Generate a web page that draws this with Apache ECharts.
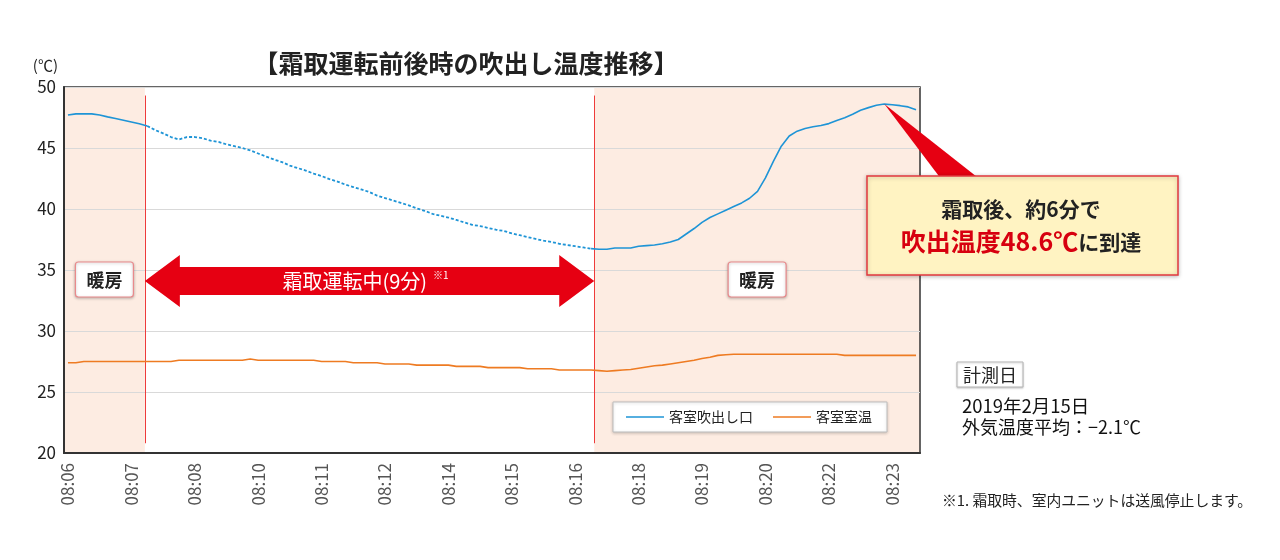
<!DOCTYPE html>
<html lang="ja">
<head>
<meta charset="utf-8">
<title>霜取運転前後時の吹出し温度推移</title>
<script src="https://cdn.jsdelivr.net/npm/echarts@6/dist/echarts.min.js"></script>
<style>
    html, body { margin: 0; padding: 0; background: #fff; }
    #chart { width: 1280px; height: 560px; }
</style>
</head>
<body>
<div id="chart"></div>
<script>
// 計測時刻（10秒ごと）
const times = [
    '08:06:00', '08:06:10', '08:06:20', '08:06:30', '08:06:40', '08:06:50',
    '08:07:00', '08:07:10', '08:07:20', '08:07:30', '08:07:40', '08:07:50',
    '08:08:00', '08:08:10', '08:08:20', '08:08:30', '08:08:40', '08:08:50',
    '08:09:00', '08:09:10', '08:09:20', '08:09:30', '08:09:40', '08:09:50',
    '08:10:00', '08:10:10', '08:10:20', '08:10:30', '08:10:40', '08:10:50',
    '08:11:00', '08:11:10', '08:11:20', '08:11:30', '08:11:40', '08:11:50',
    '08:12:00', '08:12:10', '08:12:20', '08:12:30', '08:12:40', '08:12:50',
    '08:13:00', '08:13:10', '08:13:20', '08:13:30', '08:13:40', '08:13:50',
    '08:14:00', '08:14:10', '08:14:20', '08:14:30', '08:14:40', '08:14:50',
    '08:15:00', '08:15:10', '08:15:20', '08:15:30', '08:15:40', '08:15:50',
    '08:16:00', '08:16:10', '08:16:20', '08:16:30', '08:16:40', '08:16:50',
    '08:17:00', '08:17:10', '08:17:20', '08:17:30', '08:17:40', '08:17:50',
    '08:18:00', '08:18:10', '08:18:20', '08:18:30', '08:18:40', '08:18:50',
    '08:19:00', '08:19:10', '08:19:20', '08:19:30', '08:19:40', '08:19:50',
    '08:20:00', '08:20:10', '08:20:20', '08:20:30', '08:20:40', '08:20:50',
    '08:21:00', '08:21:10', '08:21:20', '08:21:30', '08:21:40', '08:21:50',
    '08:22:00', '08:22:10', '08:22:20', '08:22:30', '08:22:40', '08:22:50',
    '08:23:00', '08:23:10', '08:23:20', '08:23:30', '08:23:40', '08:23:50'
];

// 客室吹出し口 (℃)
const outletTemp = [
    47.7, 47.8, 47.8, 47.8, 47.7, 47.55, 47.42, 47.28, 47.13, 46.98, 46.8, 46.47,
    46.2, 45.9, 45.7, 45.9, 45.9, 45.8, 45.6, 45.5, 45.3, 45.15, 45.0, 44.8,
    44.55, 44.3, 44.05, 43.85, 43.55, 43.35, 43.15, 42.9, 42.7, 42.45, 42.25, 42.0,
    41.8, 41.6, 41.4, 41.1, 40.9, 40.7, 40.5, 40.3, 40.05, 39.85, 39.6, 39.45,
    39.3, 39.1, 38.9, 38.7, 38.6, 38.45, 38.3, 38.2, 38.0, 37.85, 37.7, 37.55,
    37.4, 37.3, 37.15, 37.05, 36.95, 36.85, 36.75, 36.7, 36.7, 36.8, 36.8, 36.8,
    36.95, 37.0, 37.05, 37.15, 37.3, 37.5, 37.95, 38.4, 38.9, 39.3, 39.6, 39.9,
    40.2, 40.5, 40.88, 41.45, 42.55, 43.9, 45.15, 45.98, 46.38, 46.6, 46.74, 46.84,
    47.0, 47.26, 47.48, 47.77, 48.1, 48.31, 48.5, 48.6, 48.55, 48.47, 48.37, 48.14
];

// 客室室温 (℃)
const roomTemp = [
    27.4, 27.4, 27.5, 27.5, 27.5, 27.5, 27.5, 27.5, 27.5, 27.5, 27.5, 27.5,
    27.5, 27.5, 27.6, 27.6, 27.6, 27.6, 27.6, 27.6, 27.6, 27.6, 27.6, 27.7,
    27.6, 27.6, 27.6, 27.6, 27.6, 27.6, 27.6, 27.6, 27.5, 27.5, 27.5, 27.5,
    27.4, 27.4, 27.4, 27.4, 27.3, 27.3, 27.3, 27.3, 27.2, 27.2, 27.2, 27.2,
    27.2, 27.1, 27.1, 27.1, 27.1, 27.0, 27.0, 27.0, 27.0, 27.0, 26.9, 26.9,
    26.9, 26.9, 26.8, 26.8, 26.8, 26.8, 26.8, 26.75, 26.7, 26.75, 26.8, 26.85,
    26.95, 27.05, 27.15, 27.2, 27.3, 27.4, 27.5, 27.6, 27.75, 27.85, 28.0, 28.05,
    28.1, 28.1, 28.1, 28.1, 28.1, 28.1, 28.1, 28.1, 28.1, 28.1, 28.1, 28.1,
    28.1, 28.1, 28.0, 28.0, 28.0, 28.0, 28.0, 28.0, 28.0, 28.0, 28.0, 28.0
];

const seriesNames = ['客室吹出し口', '客室室温'];

// 霜取運転の開始・終了（時間軸上の位置、10秒単位、08:06:00 = 0）
const defrostStart = 10.2;
const defrostEnd = 66.9;

const FONT = '"Noto Sans CJK JP", "Noto Sans", sans-serif';
const BLUE = '#1e94d6';
const ORANGE = '#ee7b22';
const RED = '#e60012';

// 霜取中は点線、暖房中は実線（計測点 i は時間軸上 i + 0.5 に位置する）
const splitA = Math.round(defrostStart - 0.5);
const splitB = Math.round(defrostEnd - 0.5);
const outletSolid = outletTemp.map((v, i) => (i <= splitA || i >= splitB) ? v : null);
const outletDefrost = outletTemp.map((v, i) => (i >= splitA && i <= splitB) ? v : null);

const chart = echarts.init(document.getElementById('chart'));

chart.setOption({
    animation: false,
    textStyle: { fontFamily: FONT },
    grid: {
        left: 64, right: 360, top: 87, bottom: 107,
        show: true, borderColor: '#333', borderWidth: 1.5,
        backgroundColor: 'transparent',
        outerBoundsMode: 'none'
    },
    legend: {
        data: seriesNames,
        left: 613, top: 402,
        padding: [8, 15, 8, 13],
        itemGap: 20,
        itemWidth: 38, itemHeight: 1.6,
        icon: 'rect',
        backgroundColor: '#fff',
        borderColor: '#bdbdbd', borderWidth: 1,
        shadowBlur: 3, shadowColor: 'rgba(0,0,0,0.18)', shadowOffsetY: 1,
        textStyle: { fontSize: 14, color: '#222', fontFamily: FONT }
    },
    xAxis: [
        {
            type: 'category',
            data: times,
            boundaryGap: true,
            axisLine: { lineStyle: { color: '#333', width: 2 } },
            axisTick: { show: false },
            splitLine: { show: false },
            axisLabel: {
                interval: 7,
                rotate: 90,
                margin: 10,
                fontSize: 17,
                color: '#555',
                fontFamily: FONT,
                formatter: (v) => v.slice(0, 5)
            }
        },
        {
            // 霜取区間の位置合わせ用（非表示）
            type: 'value', min: 0, max: times.length, show: false
        }
    ],
    yAxis: {
        type: 'value',
        min: 20, max: 50, interval: 5,
        name: '(℃)',
        nameLocation: 'end',
        nameGap: 14,
        nameTextStyle: { align: 'right', fontSize: 15, color: '#222', padding: [0, 6, 0, 0] },
        axisLine: { show: true, lineStyle: { color: '#333', width: 2 } },
        axisTick: { show: false },
        splitLine: { lineStyle: { color: '#d9d9d9', width: 1 } },
        axisLabel: { fontSize: 17, color: '#222', margin: 8, fontFamily: FONT }
    },
    series: [
        {
            name: '暖房区間',
            type: 'line',
            xAxisIndex: 1,
            data: [],
            z: -1,
            silent: true,
            markArea: {
                silent: true,
                z: -1,
                itemStyle: { color: '#fdece2' },
                data: [
                    [{ xAxis: 0 }, { xAxis: defrostStart }],
                    [{ xAxis: defrostEnd }, { xAxis: times.length }]
                ]
            },
            markLine: {
                silent: true,
                z: 3,
                symbol: ['none', 'none'],
                label: { show: false },
                lineStyle: { color: '#ee3b3b', width: 1, type: 'solid', opacity: 1 },
                data: [
                    [{ coord: [defrostStart, 49.3] }, { coord: [defrostStart, 20.8] }],
                    [{ coord: [defrostEnd, 49.3] }, { coord: [defrostEnd, 20.8] }]
                ]
            }
        },
        {
            name: seriesNames[0],
            type: 'line',
            data: outletSolid,
            symbol: 'none',
            connectNulls: false,
            lineStyle: { color: BLUE, width: 1.6 },
            itemStyle: { color: BLUE },
            z: 5
        },
        {
            name: '客室吹出し口（霜取中）',
            type: 'line',
            data: outletDefrost,
            symbol: 'none',
            connectNulls: false,
            lineStyle: { color: BLUE, width: 1.8, type: [3, 2] },
            itemStyle: { color: BLUE },
            z: 5
        },
        {
            name: seriesNames[1],
            type: 'line',
            data: roomTemp,
            symbol: 'none',
            lineStyle: { color: ORANGE, width: 1.6 },
            itemStyle: { color: ORANGE },
            z: 5
        }
    ]
});

// 注記（矢印・ラベル・吹き出し）
function drawNotes() {
    const xLeft = chart.convertToPixel({ xAxisIndex: 1 }, 0);
    const xs = chart.convertToPixel({ xAxisIndex: 1 }, defrostStart);
    const xe = chart.convertToPixel({ xAxisIndex: 1 }, defrostEnd);
    const xRight = chart.convertToPixel({ xAxisIndex: 1 }, times.length);

    const peak = Math.max(...outletTemp);
    const peakIdx = outletTemp.indexOf(peak);
    const tip = chart.convertToPixel({ seriesIndex: 1 }, [peakIdx, peak]);

    const ay = 281, head = 35;
    const arrow = {
        type: 'polygon',
        z: 20,
        shape: {
            points: [
                [xs, ay], [xs + head, ay - 26], [xs + head, ay - 14],
                [xe - head, ay - 14], [xe - head, ay - 26], [xe, ay],
                [xe - head, ay + 26], [xe - head, ay + 14],
                [xs + head, ay + 14], [xs + head, ay + 26]
            ]
        },
        style: { fill: RED }
    };
    const arrowText = {
        type: 'text',
        z: 21,
        x: (xs + xe) / 2 - 4,
        y: ay,
        style: {
            text: '{m|霜取運転中(9分)}{s|※1}',
            align: 'center',
            verticalAlign: 'middle',
            rich: {
                m: { fill: '#fff', fontSize: 20, fontFamily: FONT },
                s: { fill: '#fff', fontSize: 10, fontFamily: FONT, padding: [0, 0, 12, 6] }
            }
        }
    };

    const heatLabel = (cx) => [
        {
            type: 'rect',
            z: 20,
            shape: { x: cx - 29, y: 262, width: 58, height: 35, r: 3 },
            style: {
                fill: '#fff', stroke: '#e98a8c', lineWidth: 1.2,
                shadowBlur: 3, shadowColor: 'rgba(0,0,0,0.25)', shadowOffsetY: 1
            }
        },
        {
            type: 'text',
            z: 21,
            x: cx, y: 280,
            style: {
                text: '暖房', align: 'center', verticalAlign: 'middle',
                fill: '#222', fontSize: 18, fontWeight: 'bold', fontFamily: FONT
            }
        }
    ];

    const callout = [
        {
            type: 'polygon',
            z: 30,
            shape: { points: [[tip[0], tip[1]], [tip[0] + 56, 178], [tip[0] + 94, 178]] },
            style: { fill: RED }
        },
        {
            type: 'rect',
            z: 31,
            shape: { x: 867, y: 176, width: 311, height: 99 },
            style: {
                fill: '#fff3c2', stroke: '#e2393f', lineWidth: 1.5,
                shadowBlur: 4, shadowColor: 'rgba(0,0,0,0.25)', shadowOffsetY: 1
            }
        },
        {
            type: 'text',
            z: 32,
            x: 1021, y: 209,
            style: {
                text: '霜取後、約6分で', align: 'center', verticalAlign: 'middle',
                fill: '#222', fontSize: 21, fontWeight: 'bold', fontFamily: FONT
            }
        },
        {
            type: 'text',
            z: 32,
            x: 1021, y: 241,
            style: {
                text: '{r|吹出温度' + peak + '℃}{k|に到達}',
                align: 'center', verticalAlign: 'middle',
                rich: {
                    r: { fill: '#d7000f', fontSize: 25, fontWeight: 'bold', fontFamily: FONT },
                    k: { fill: '#222', fontSize: 21, fontWeight: 'bold', fontFamily: FONT, padding: [2, 0, 0, 0] }
                }
            }
        }
    ];

    const info = [
        {
            type: 'rect',
            z: 10,
            shape: { x: 957, y: 362, width: 66, height: 25 },
            style: {
                fill: '#fff', stroke: '#b5b5b5', lineWidth: 1,
                shadowBlur: 2, shadowColor: 'rgba(0,0,0,0.2)', shadowOffsetY: 1
            }
        },
        {
            type: 'text', z: 11, x: 990, y: 375,
            style: {
                text: '計測日', align: 'center', verticalAlign: 'middle',
                fill: '#222', fontSize: 18, fontFamily: FONT
            }
        },
        {
            type: 'text', z: 11, x: 962, y: 406,
            style: {
                text: '2019年2月15日', verticalAlign: 'middle',
                fill: '#111', fontSize: 18.5, fontFamily: FONT
            }
        },
        {
            type: 'text', z: 11, x: 962, y: 427,
            style: {
                text: '外気温度平均：−2.1℃', verticalAlign: 'middle',
                fill: '#111', fontSize: 18, fontFamily: FONT
            }
        },
        {
            type: 'text', z: 11, x: 942, y: 500,
            style: {
                text: '※1. 霜取時、室内ユニットは送風停止します。', verticalAlign: 'middle',
                fill: '#222', fontSize: 14.8, fontFamily: FONT
            }
        }
    ];

    const title = {
        type: 'text',
        z: 10,
        x: 466, y: 63,
        style: {
            text: '【霜取運転前後時の吹出し温度推移】',
            align: 'center', verticalAlign: 'middle',
            fill: '#222', fontSize: 25, fontWeight: 'bold', fontFamily: FONT
        }
    };

    chart.setOption({
        graphic: [title, arrow, arrowText]
            .concat(heatLabel((xLeft + xs) / 2), heatLabel((xe + xRight) / 2))
            .concat(callout, info)
    });
}

drawNotes();
</script>
</body>
</html>
